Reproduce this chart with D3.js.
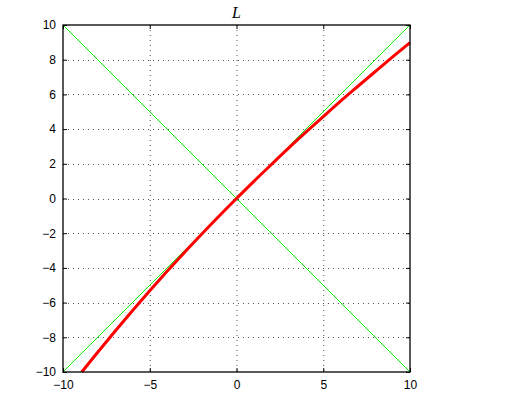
<!DOCTYPE html>
<html><head><meta charset="utf-8">
<script src="https://cdn.jsdelivr.net/npm/d3@7"></script>
<style>body{margin:0;background:#fff}svg{display:block}</style>
</head><body>
<script>
const xTicks = [-10, -5, 0, 5, 10];
const yTicks = [-10, -8, -6, -4, -2, 0, 2, 4, 6, 8, 10];
const curveX = [-8.92, -8, -7, -6, -5, -4, -3, -2, -1, 0, 1, 2, 3, 4, 5, 6, 7, 8, 9, 10];
const curveY = [-10, -8.86, -7.65, -6.47, -5.32, -4.20, -3.11, -2.05, -1.01, 0, 0.99, 1.95, 2.90, 3.82, 4.72, 5.61, 6.47, 7.32, 8.16, 8.98];
const diagUp = [[-10, -10], [10, 10]];
const diagDown = [[-10, 10], [10, -10]];
const title = "L";

const W = 505, H = 417;
const m = {l: 63, t: 25, r: 410, b: 372};
const svg = d3.select("body").append("svg").attr("width", W).attr("height", H);
const x = d3.scaleLinear().domain([-10, 10]).range([m.l, m.r]);
const y = d3.scaleLinear().domain([-10, 10]).range([m.b, m.t]);
const fmt = d => d < 0 ? "\u2212" + Math.abs(d) : String(d);

// grid
const g = svg.append("g");
g.selectAll(".gx").data(xTicks.slice(1, -1)).join("line")
  .attr("x1", d => x(d) + 0.5).attr("x2", d => x(d) + 0.5)
  .attr("y1", m.t).attr("y2", m.b)
  .attr("stroke", "#555").attr("stroke-width", 1).attr("stroke-dasharray", "1,4");
g.selectAll(".gy").data(yTicks.slice(1, -1)).join("line")
  .attr("y1", d => Math.round(y(d)) + 0.5).attr("y2", d => Math.round(y(d)) + 0.5)
  .attr("x1", m.l).attr("x2", m.r)
  .attr("stroke", "#555").attr("stroke-width", 1).attr("stroke-dasharray", "1,4");

const line = d3.line().x(d => x(d[0])).y(d => y(d[1]));
svg.append("path").attr("d", line(diagUp)).attr("stroke", "#00ee00").attr("stroke-width", 1).attr("fill", "none");
svg.append("path").attr("d", line(diagDown)).attr("stroke", "#00ee00").attr("stroke-width", 1).attr("fill", "none");

const pts = curveX.map((v, i) => [v, curveY[i]]);
svg.append("path").attr("d", d3.line().x(d => x(d[0])).y(d => y(d[1])).curve(d3.curveMonotoneX)(pts))
  .attr("stroke", "#ff0000").attr("stroke-width", 3).attr("fill", "none");

// axes with inward ticks
const tl = 4;
const axB = svg.append("g").attr("transform", `translate(0,${m.b})`)
  .call(d3.axisBottom(x).tickValues(xTicks).tickFormat(fmt).tickSizeInner(-tl).tickSizeOuter(0).tickPadding(8));
const axT = svg.append("g").attr("transform", `translate(0,${m.t})`)
  .call(d3.axisTop(x).tickValues(xTicks).tickFormat("").tickSizeInner(-tl).tickSizeOuter(0));
const axL = svg.append("g").attr("transform", `translate(${m.l},0)`)
  .call(d3.axisLeft(y).tickValues(yTicks).tickFormat(fmt).tickSizeInner(-tl).tickSizeOuter(0).tickPadding(7));
const axR = svg.append("g").attr("transform", `translate(${m.r},0)`)
  .call(d3.axisRight(y).tickValues(yTicks).tickFormat("").tickSizeInner(-tl).tickSizeOuter(0));
[axB, axT, axL, axR].forEach(a => {
  a.select(".domain").remove();
  a.selectAll("line").attr("stroke", "#000");
  a.selectAll("text").attr("font-family", "'Liberation Sans', Arial, sans-serif").attr("font-size", 12).attr("fill", "#000");
});
svg.append("rect").attr("x", m.l).attr("y", m.t).attr("width", m.r - m.l).attr("height", m.b - m.t)
  .attr("fill", "none").attr("stroke", "#000").attr("stroke-width", 1.3);

svg.append("text").attr("x", (m.l + m.r) / 2).attr("y", 18).attr("text-anchor", "middle")
  .attr("font-family", "'Liberation Serif', 'Times New Roman', serif").attr("font-style", "italic")
  .attr("font-size", 16).text(title);
</script>
</body></html>
